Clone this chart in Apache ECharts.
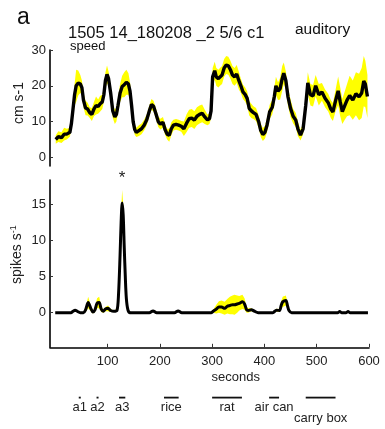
<!DOCTYPE html>
<html>
<head>
<meta charset="utf-8">
<script src="https://cdn.jsdelivr.net/npm/echarts@6/dist/echarts.min.js"></script>
<style>
  html, body { margin: 0; padding: 0; background: #fff; }
  #chart { width: 385px; height: 429px; }
</style>
</head>
<body>
<div id="chart"></div>
<script>
// Running speed: sample times (s), mean (cm/s) and s.e.m.
const speedTime = [1, 6, 12, 17, 22, 28, 31, 34, 37, 40, 44, 48, 51, 54, 58, 62, 66, 70, 74, 78,
  82, 86, 90, 93, 96, 99, 102, 106, 110, 114, 117, 120, 124, 128, 132, 136, 140, 143, 146, 149,
  152, 155, 160, 165, 170, 175, 180, 184, 188, 193, 197, 201, 206, 210, 214, 218, 222, 226, 231, 236,
  241, 246, 251, 256, 261, 266, 271, 276, 281, 286, 291, 295, 298, 301, 305, 308, 312, 315, 319, 323,
  327, 331, 335, 339, 343, 347, 351, 355, 359, 363, 367, 371, 375, 379, 384, 389, 393, 397, 401, 405,
  410, 415, 419, 422, 426, 430, 434, 437, 441, 445, 450, 455, 460, 464, 469, 474, 479, 483, 488, 493,
  498, 504, 510, 516, 522, 527, 531, 536, 541, 545, 549, 554, 558, 563, 569, 575, 581, 586, 590, 593, 597];
const speedMean = [5.0, 5.8, 5.5, 6.5, 6.5, 7.0, 9.5, 13.5, 17.5, 20.0, 20.8, 20.5, 19.5, 16.0, 13.8, 13.5, 12.5, 12.0, 13.5, 14.5,
  14.2, 15.0, 15.5, 17.5, 21.5, 23.2, 22.0, 18.0, 13.0, 11.3, 12.0, 14.5, 18.0, 19.8, 20.3, 21.0, 20.5, 18.5, 14.5, 10.0,
  7.8, 7.0, 7.5, 8.0, 9.0, 10.5, 13.0, 14.8, 14.3, 12.0, 10.0, 9.3, 9.8, 7.8, 6.5, 6.2, 8.0, 9.0, 9.2, 9.0,
  8.7, 8.0, 9.5, 10.8, 11.0, 10.4, 11.5, 12.0, 12.3, 11.3, 10.5, 10.8, 13.0, 22.5, 24.2, 22.5, 22.0, 22.5, 23.0, 25.0,
  25.8, 25.6, 24.5, 23.0, 22.5, 23.3, 21.5, 20.0, 18.3, 17.6, 16.5, 13.7, 13.0, 12.5, 12.0, 10.0, 7.5, 6.4, 7.0, 9.0,
  12.7, 14.0, 17.0, 20.0, 18.5, 19.2, 22.0, 23.5, 21.5, 17.0, 13.7, 11.5, 10.4, 8.0, 6.2, 8.0, 14.5, 20.8, 17.5, 17.2,
  20.0, 17.5, 18.3, 16.5, 15.3, 13.5, 12.7, 15.8, 18.6, 15.5, 12.8, 14.6, 16.0, 17.3, 16.0, 17.8, 16.9, 18.0, 21.3, 20.5, 17.0];
const speedSem = [1.2, 1.5, 1.5, 1.8, 1.5, 1.2, 1.5, 2.0, 3.0, 4.5, 3.5, 2.5, 2.0, 2.0, 2.0, 1.8, 1.5, 1.8, 2.0, 2.5,
  2.0, 2.2, 2.0, 2.0, 2.2, 2.5, 2.0, 2.0, 2.0, 2.0, 2.0, 2.0, 2.5, 3.0, 3.5, 3.5, 3.0, 2.5, 2.0, 1.5,
  1.5, 1.3, 1.5, 1.5, 1.5, 1.5, 1.5, 1.5, 1.5, 1.5, 1.5, 1.5, 1.5, 1.5, 1.5, 1.8, 1.8, 1.5, 1.5, 1.5,
  1.5, 2.0, 2.5, 2.5, 2.5, 2.5, 2.5, 2.5, 2.5, 2.0, 1.5, 1.5, 2.0, 2.5, 2.5, 2.5, 2.5, 2.5, 2.5, 2.5,
  2.5, 2.5, 2.5, 2.5, 2.5, 2.5, 2.5, 2.0, 2.0, 2.0, 2.0, 2.0, 2.0, 1.8, 1.8, 1.8, 1.8, 1.8, 1.8, 2.0,
  2.0, 2.0, 2.5, 2.5, 2.5, 3.0, 3.5, 3.0, 2.5, 2.5, 2.5, 2.0, 2.0, 2.0, 1.5, 1.5, 2.0, 3.0, 3.0, 3.0,
  3.0, 3.0, 2.5, 2.5, 2.5, 2.5, 2.5, 3.0, 4.0, 4.0, 3.5, 4.0, 4.5, 5.5, 5.5, 6.0, 6.5, 7.0, 7.0, 6.5, 6.0];

// Firing rate: sample times (s), mean (spikes/s) and s.e.m.
const rateTime = [0, 30, 34, 38, 42, 48, 54, 58, 63, 68, 72, 76, 80, 84, 88, 92, 96, 101, 106, 112,
  118, 121, 124, 126, 128, 130, 132, 134, 136, 139, 143, 150, 180, 187, 194, 228, 235, 242, 298, 302,
  308, 313, 318, 324, 329, 334, 339, 343, 348, 352, 358, 362, 366, 369, 375, 381, 388, 416, 423, 429,
  432, 435, 441, 444, 447, 452, 540, 544, 548, 556, 560, 564, 598];
const rateMean = [0, 0, 0.2, 0.35, 0.2, 0, 0, 0.4, 1.4, 0.6, 0.1, 0.4, 1.3, 1.4, 0.5, 0.2, 0.5, 0.6, 0.3, 0.2,
  0.3, 2.5, 8.0, 12.5, 15.2, 13.5, 9.0, 5.0, 2.0, 0.4, 0, 0, 0, 0.25, 0, 0, 0.25, 0, 0, 0.2,
  0.5, 0.8, 0.8, 0.6, 0.9, 1.0, 1.1, 1.1, 1.2, 1.3, 1.5, 1.2, 0.4, 0.3, 0.4, 0.2, 0, 0, 0.35, 0.3,
  1.0, 1.5, 1.7, 1.0, 0.3, 0, 0, 0.15, 0, 0, 0.15, 0, 0];
const rateSem = [0, 0, 0.05, 0.1, 0.05, 0, 0, 0.3, 0.8, 0.4, 0.2, 0.3, 0.7, 0.8, 0.4, 0.2, 0.3, 0.4, 0.2, 0.1,
  0.2, 0.5, 1.0, 1.5, 1.8, 1.5, 1.0, 0.6, 0.3, 0.1, 0, 0, 0, 0, 0, 0, 0, 0, 0, 0.2,
  0.6, 0.8, 0.9, 0.9, 1.0, 1.2, 1.3, 1.4, 1.2, 1.0, 1.0, 0.8, 0.4, 0.3, 0.2, 0.1, 0, 0, 0.2, 0.2,
  0.5, 0.7, 0.7, 0.5, 0.2, 0, 0, 0, 0, 0, 0, 0, 0];

// Behavioural events (s)
const eventLabels = ['a1', 'a2', 'a3', 'rice', 'rat', 'air can', 'carry box'];
const eventStart = [45, 79, 122, 208, 300, 409, 479];
const eventEnd = [47, 81, 134, 236, 357, 428, 536];

// Axis ticks
const timeTicks = [100, 200, 300, 400, 500, 600];
const speedTicks = [0, 10, 20, 30];
const rateTicks = [0, 5, 10, 15];

const FONT = 'Liberation Sans, Arial, Helvetica, sans-serif';
const TXT = '#222';
const YELLOW = '#ffff00';

function pairs(t, v) { return t.map((x, i) => [x, v[i]]); }
// rows of [time, mean - sem, mean + sem]
function bandRows(t, m, s) { return t.map((x, i) => [x, m[i] - s[i], m[i] + s[i]]); }

const peakIdx = rateMean.indexOf(Math.max(...rateMean));

// Filled s.e.m. envelope, drawn once as one polygon through all rows
function bandRenderer(params, api) {
  if (params.dataIndex !== 0) return null;
  const n = params.dataInsideLength;
  const upper = [], lowerPts = [];
  for (let i = 0; i < n; i++) {
    upper.push(api.coord([api.value(0, i), api.value(2, i)]));
    lowerPts.push(api.coord([api.value(0, i), api.value(1, i)]));
  }
  return {
    type: 'polygon',
    shape: { points: upper.concat(lowerPts.reverse()) },
    style: { fill: YELLOW, stroke: null }
  };
}

const xCommon = {
  type: 'value', min: -10, max: 600,
  splitLine: { show: false }
};

function yCommon(min, max, ticks, name, shift) {
  return {
    type: 'value', min: min, max: max,
    name: name, nameLocation: 'middle', nameGap: 24, nameMoveOverlap: false,
    nameTextStyle: { fontFamily: FONT, fontSize: 14, color: TXT, padding: [0, 0, 0, shift] },
    axisLine: { show: true, onZero: false, lineStyle: { color: '#000', width: 1.6 } },
    axisTick: { show: true, inside: true, length: 3, customValues: ticks, lineStyle: { color: '#333', width: 1 } },
    axisLabel: { customValues: ticks, fontFamily: FONT, fontSize: 13, color: TXT, margin: 4 },
    splitLine: { show: false }
  };
}

const lowered = new Set(['carry box']);

const chart = echarts.init(document.getElementById('chart'), null, { renderer: 'canvas' });

const option = {
  animation: false,
  backgroundColor: '#fff',
  grid: [
    { left: 50, right: 16, top: 50, height: 116 },
    { left: 50, right: 16, top: 180, height: 167.3 },
    { left: 50, right: 16, top: 397.5, height: 20 }
  ],
  xAxis: [
    Object.assign({ gridIndex: 0, show: false }, xCommon),
    Object.assign({
      gridIndex: 1,
      name: 'seconds', nameLocation: 'middle', nameGap: 24, nameMoveOverlap: false,
      nameTextStyle: { fontFamily: FONT, fontSize: 13, color: TXT, align: 'left', padding: [0, 0, 0, 2] },
      axisLine: { show: true, onZero: false, lineStyle: { color: '#000', width: 1.6 } },
      axisTick: { show: true, inside: true, length: 3.5, customValues: timeTicks, lineStyle: { color: '#333' } },
      axisLabel: { customValues: timeTicks, fontFamily: FONT, fontSize: 13, color: TXT, margin: 8 }
    }, xCommon),
    Object.assign({ gridIndex: 2, show: false }, xCommon)
  ],
  yAxis: [
    Object.assign({ gridIndex: 0 }, yCommon(-2.4, 30, speedTicks, 'cm s-1', 10)),
    Object.assign({ gridIndex: 1 }, yCommon(-4.8, 18.4, rateTicks, '{a|spikes s}{sup|-1}', 18)),
    { gridIndex: 2, type: 'value', min: 0, max: 1, show: false }
  ],
  series: [
    {
      type: 'custom', xAxisIndex: 0, yAxisIndex: 0, silent: true,
      data: bandRows(speedTime, speedMean, speedSem),
      encode: { x: 0, y: [1, 2] },
      renderItem: bandRenderer
    },
    {
      type: 'line', xAxisIndex: 0, yAxisIndex: 0,
      data: pairs(speedTime, speedMean),
      symbol: 'none', lineStyle: { color: '#000', width: 3.4 }
    },
    {
      type: 'custom', xAxisIndex: 1, yAxisIndex: 1, silent: true,
      data: bandRows(rateTime, rateMean, rateSem),
      encode: { x: 0, y: [1, 2] },
      renderItem: bandRenderer
    },
    {
      type: 'line', xAxisIndex: 1, yAxisIndex: 1,
      data: pairs(rateTime, rateMean),
      symbol: 'none', smooth: 0.3, lineStyle: { color: '#000', width: 3 },
      markPoint: {
        symbol: 'circle', symbolSize: 0,
        data: [{ coord: [rateTime[peakIdx], 18.4] }],
        label: { show: true, position: 'inside', formatter: '*', offset: [0, -2],
          fontFamily: FONT, fontSize: 17, color: TXT }
      }
    },
    {
      type: 'custom', xAxisIndex: 2, yAxisIndex: 2,
      data: eventStart.map((s, i) => [s, eventEnd[i]]),
      encode: { x: [0, 1] },
      renderItem: function (params, api) {
        const a = api.coord([api.value(0), 1]);
        const b = api.coord([api.value(1), 1]);
        const name = eventLabels[params.dataIndex];
        const w = Math.max(b[0] - a[0], 2);
        const mid = a[0] + w / 2;
        const dy = lowered.has(name) ? 21 : 9.5;
        return {
          type: 'group',
          children: [
            { type: 'rect', shape: { x: a[0], y: a[1] - 0.8, width: w, height: 1.8 }, style: { fill: '#111' } },
            { type: 'text', style: { text: name, x: mid, y: a[1] + dy, align: 'center', verticalAlign: 'middle',
              font: '13px ' + FONT, fill: TXT } }
          ]
        };
      }
    }
  ],
  graphic: [
    { type: 'text', style: { text: 'a', x: 17, y: 18, verticalAlign: 'middle', font: '23px ' + FONT, fill: '#111' } },
    { type: 'text', style: { text: '1505 14_180208 _2 5/6 c1', x: 68, y: 33, verticalAlign: 'middle', font: '16.5px ' + FONT, fill: '#111' } },
    { type: 'text', style: { text: 'auditory', x: 295, y: 30, verticalAlign: 'middle', font: '15.5px ' + FONT, fill: '#111' } },
    { type: 'text', style: { text: 'speed', x: 70, y: 46, verticalAlign: 'middle', font: '13px ' + FONT, fill: '#111' } }
  ]
};

option.yAxis[1].nameTextStyle.rich = {
  a: { fontFamily: FONT, fontSize: 14, color: TXT },
  sup: { fontFamily: FONT, fontSize: 9, color: TXT, padding: [0, 0, 8, 0] }
};

chart.setOption(option);
</script>
</body>
</html>
